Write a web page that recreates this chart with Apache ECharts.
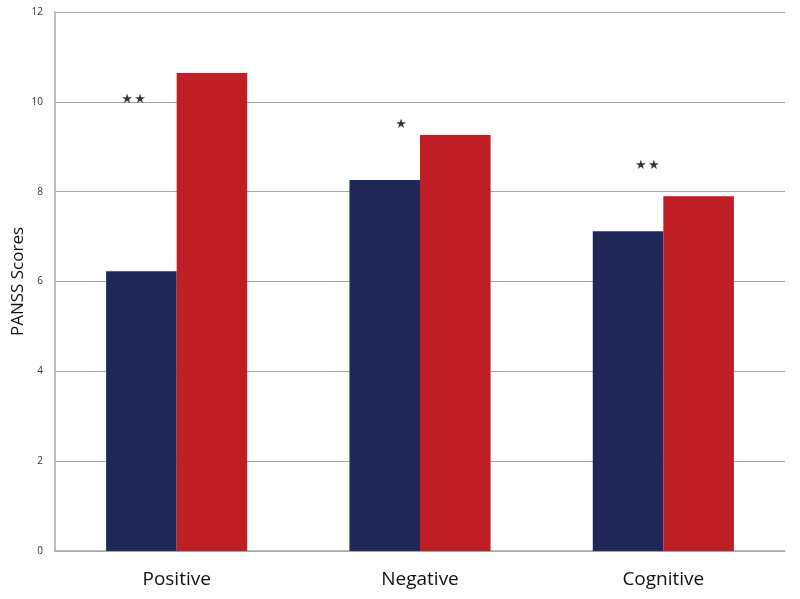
<!DOCTYPE html>
<html><head><meta charset="utf-8">
<script src="https://cdn.jsdelivr.net/npm/echarts@6/dist/echarts.min.js"></script>
<style>html,body{margin:0;padding:0;background:#fff}#c{width:800px;height:599px}</style>
</head><body><div id="c"></div>
<script>
const categories = ['Positive', 'Negative', 'Cognitive'];
const seriesA = [6.23, 8.26, 7.12];
const seriesB = [10.64, 9.26, 7.90];
const starText = ['★\u200A★', '★', '★\u200A★'];
const starY = [10.04, 9.5, 8.59];
const starOffsetX = [-43, -19, -16];

const chart = echarts.init(document.getElementById('c'), null, {renderer: 'canvas'});
chart.setOption({
  animation: false,
  grid: {left: 55, right: 15, top: 12, bottom: 48, containLabel: false, outerBoundsMode: 'none'},
  xAxis: {
    type: 'category', data: categories,
    axisLine: {lineStyle: {color: '#a6a6a6', width: 1.5}},
    axisTick: {show: false},
    axisLabel: {color: '#111', fontSize: 19, fontFamily: 'Open Sans', margin: 19}
  },
  yAxis: {
    type: 'value', min: 0, max: 12, interval: 2,
    name: 'PANSS Scores', nameLocation: 'middle', nameGap: 28, nameMoveOverlap: false,
    nameTextStyle: {color: '#111', fontSize: 17, fontFamily: 'Open Sans'},
    axisLine: {show: true, lineStyle: {color: '#a6a6a6', width: 1.5}},
    axisTick: {show: false},
    axisLabel: {color: '#333', fontSize: 10, fontFamily: 'Open Sans', margin: 12},
    splitLine: {lineStyle: {color: '#a6a6a6', width: 1.2}}
  },
  series: [
    {type: 'bar', data: seriesA, barGap: '0%', barCategoryGap: '42%', itemStyle: {color: '#1F2858'}},
    {type: 'bar', data: seriesB, itemStyle: {color: '#BE1E24'}},
    {type: 'scatter', symbolSize: 0, z: 10,
     data: categories.map((c, i) => ({value: [c, starY[i]],
       label: {show: true, position: 'inside', formatter: starText[i], offset: [starOffsetX[i], 0],
               color: '#000', fontSize: 13, fontWeight: 'bold', fontFamily: 'DejaVu Sans'}}))}
  ]
});
</script></body></html>
